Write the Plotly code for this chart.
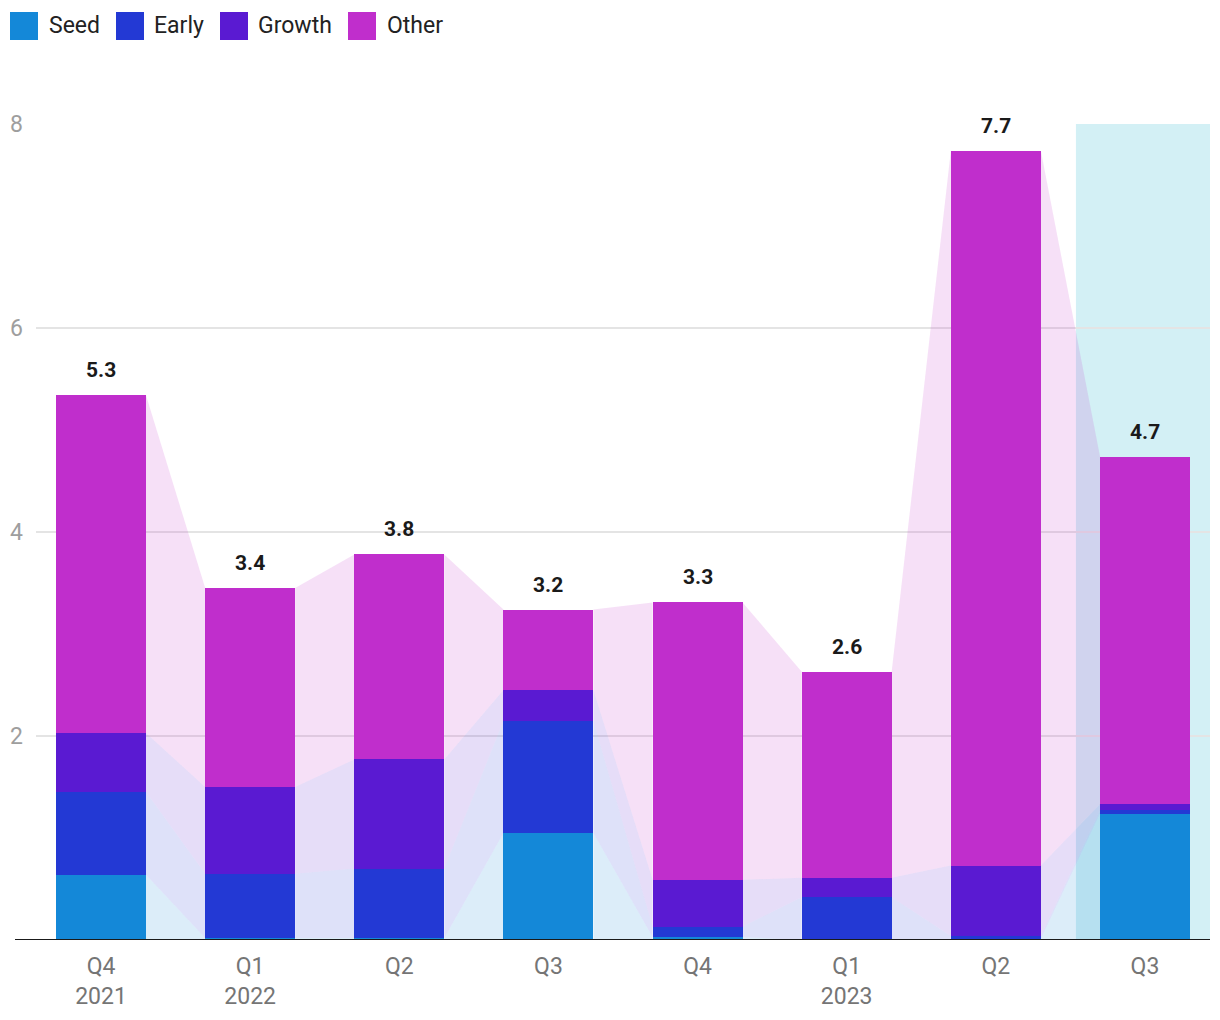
import plotly.graph_objects as go

quarters = ["Q4<br>2021", "Q1<br>2022", "Q2", "Q3", "Q4", "Q1<br>2023", "Q2", "Q3"]
seed = [0.64, 0.02, 0.02, 1.05, 0.03, 0.00, 0.01, 1.24]
early = [0.81, 0.63, 0.68, 1.10, 0.10, 0.42, 0.03, 0.03]
growth = [0.58, 0.85, 1.07, 0.30, 0.46, 0.19, 0.69, 0.06]
other = [3.31, 1.95, 2.01, 0.79, 2.72, 2.02, 7.01, 3.41]
total_labels = ["5.3", "3.4", "3.8", "3.2", "3.3", "2.6", "7.7", "4.7"]
y_ticks = [2, 4, 6, 8]

series = [("Seed", seed, "#1488d8", "rgba(20,136,216,0.15)"),
          ("Early", early, "#2339d4", "rgba(35,57,212,0.15)"),
          ("Growth", growth, "#5a1ad2", "rgba(90,26,210,0.15)"),
          ("Other", other, "#c02ecc", "rgba(192,46,204,0.15)")]

W, H = 1220, 1020
ML, MR, MT, MB = 36, 10, 124, 80
PW, PH = W - ML - MR, H - MT - MB


def px2paper_x(px):
    return (px - ML) / PW


def px2paper_y(py):
    return (H - MB - py) / PH


xs = list(range(len(quarters)))
BW = 0.603
fig = go.Figure()

base = [0.0] * len(xs)
for name, vals, col, light in series:
    tops = [b + v for b, v in zip(base, vals)]
    for i in range(len(xs) - 1):
        px = [xs[i] + BW / 2, xs[i] + BW / 2, xs[i + 1] - BW / 2, xs[i + 1] - BW / 2, xs[i] + BW / 2]
        py = [base[i], tops[i], tops[i + 1], base[i + 1], base[i]]
        fig.add_trace(go.Scatter(x=px, y=py, mode="lines", fill="toself", fillcolor=light,
                                 line=dict(width=0), hoverinfo="skip", showlegend=False))
    base = tops

for name, vals, col, light in series:
    fig.add_trace(go.Bar(x=xs, y=vals, name=name, marker=dict(color=col, line=dict(width=0)),
                         width=BW, showlegend=False))

totals = base
for i, t in enumerate(totals):
    fig.add_annotation(x=xs[i], y=t, text=total_labels[i], showarrow=False, yshift=25,
                       font=dict(size=21, color="#1a1a1a", family="Roboto", weight="bold"))

# highlighted (current) period
fig.add_shape(type="rect", xref="x", yref="y", x0=6.537, x1=7.436, y0=0, y1=8,
              fillcolor="#d3f0f5", line=dict(width=0), layer="below")
# baseline
fig.add_shape(type="line", xref="paper", yref="y", x0=px2paper_x(15), x1=1, y0=0, y1=0,
              line=dict(color="#1a1a1a", width=2), layer="above")

# custom legend
legend_pos = [(10, 47), (116, 152), (220, 256), (348, 385)]
for (name, vals, col, light), (sx, tx) in zip(series, legend_pos):
    fig.add_shape(type="rect", xref="paper", yref="paper",
                  x0=px2paper_x(sx), x1=px2paper_x(sx + 28),
                  y0=px2paper_y(40), y1=px2paper_y(12),
                  fillcolor=col, line=dict(width=0))
    fig.add_annotation(xref="paper", yref="paper", x=px2paper_x(tx), y=px2paper_y(26),
                       xanchor="left", yanchor="middle", text=name, showarrow=False,
                       font=dict(size=23, color="#222222", family="Roboto"))

fig.update_layout(
    width=W, height=H,
    barmode="stack",
    bargap=0,
    plot_bgcolor="white", paper_bgcolor="white",
    font=dict(family="Roboto", color="#222"),
    margin=dict(l=ML, r=MR, t=MT, b=MB, autoexpand=False),
    showlegend=False,
    xaxis=dict(range=[-0.436, 7.436], tickmode="array", tickvals=xs, ticktext=quarters,
               showgrid=False, zeroline=False, showline=False, ticks="",
               tickfont=dict(size=23, color="#757575", family="Roboto"),
               ticklabelstandoff=10),
    yaxis=dict(range=[0, 8], tickmode="array", tickvals=y_ticks,
               showgrid=True, gridcolor="#e4e4e4", gridwidth=2, zeroline=False,
               tickfont=dict(size=23, color="#9e9e9e", family="Roboto"), ticks="",
               showline=False, ticklabelstandoff=12),
)

fig.write_html("out.html", config={"displayModeBar": False},
               post_script="document.body.style.margin='0';")
